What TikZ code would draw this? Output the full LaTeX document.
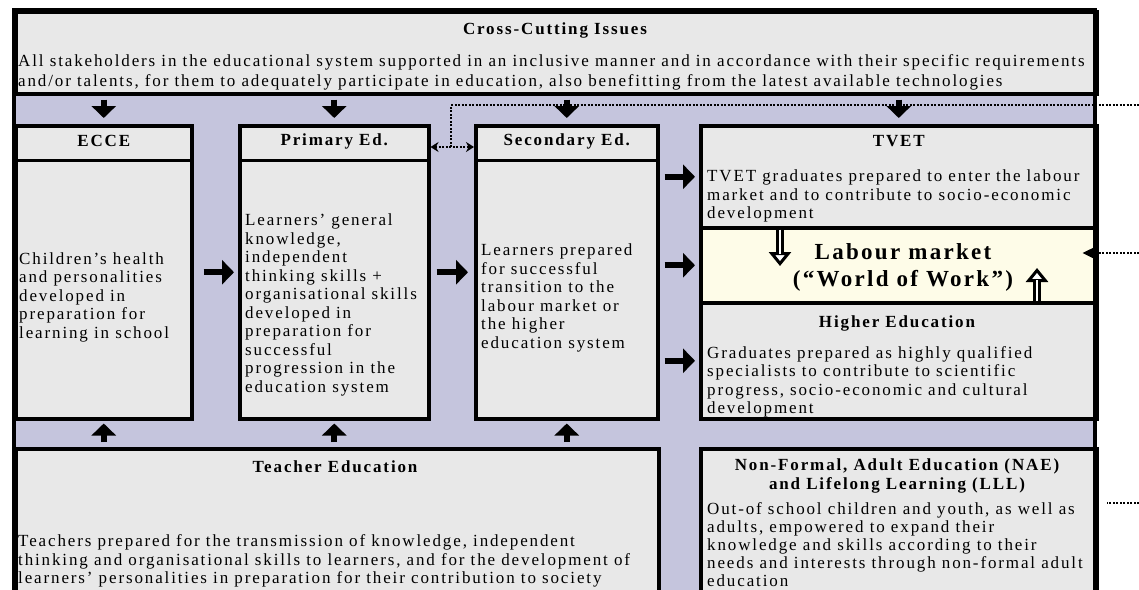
\documentclass[tikz,border=0pt]{standalone}
\usepackage{fontspec}
\setmainfont{Liberation Serif}[LetterSpace=11]
\usetikzlibrary{arrows.meta}

\definecolor{bandBlue}{RGB}{197,197,221}
\definecolor{panelGray}{RGB}{232,232,232}
\definecolor{marketCream}{RGB}{254,252,232}

\tikzset{
  panel/.style={draw=black, line width=3.5pt, fill=panelGray, inner sep=0pt, anchor=north west},
  headtext/.style={align=center, inner sep=0pt, font=\bfseries\fontsize{17}{18.5}\selectfont},
  bodytext/.style={align=left, anchor=west, inner sep=0pt, font=\fontsize{17}{18.5}\selectfont},
  flowarrow/.style={line width=6pt, -{Triangle[length=12pt,width=24pt]}},
  feedline/.style={line width=2.5pt, dash pattern=on 2pt off 1.5pt},
  hollowarrow/.style={line width=8pt, -{Triangle[open, fill=white, length=14pt, width=22pt, line width=3pt]},
    postaction={draw=white, line width=2.5pt, -, shorten >=12pt}}
}

\begin{document}
\begin{tikzpicture}[x=1pt, y=1pt, yscale=-1]
    \clip (0,0) rectangle (1139,589);

    % Define the positions of the lines and links
    \coordinate (hdrLine) at (0,160);
    \coordinate (hdrText) at (0,141);
    \coordinate (linkMid) at (451,147);
    \coordinate (topFeed) at (1139,105);
    \coordinate (labFeed) at (1139,253);
    \coordinate (naeFeed) at (1139,503);
    \coordinate (workDown) at (780,266);
    \coordinate (workUp) at (1037,268);

    % Draw the band behind the boxes
    \fill[bandBlue] (14,10) rectangle (1095,620);
    \draw[feedline] (linkMid) |- (topFeed);

    % Draw the boxes
    \node[panel, minimum width=1081pt, minimum height=82pt] (cross) at (14,10) {};
    \node[panel, minimum width=176pt, minimum height=293pt] (ecce) at (14,124) {};
    \node[panel, minimum width=189pt, minimum height=293pt] (primary) at (238,124) {};
    \node[panel, minimum width=182pt, minimum height=293pt] (secondary) at (474,124) {};
    \node[panel, minimum width=396pt, minimum height=102pt] (tvet) at (699,124) {};
    \node[panel, fill=marketCream, minimum width=396pt, minimum height=75pt] (labour) at (699,226) {};
    \node[panel, minimum width=396pt, minimum height=116pt] (higher) at (699,301) {};
    \node[panel, minimum width=643pt, minimum height=170pt] (teacher) at (14,447) {};
    \node[panel, minimum width=396pt, minimum height=170pt] (nae) at (699,447) {};
    \draw[line width=3.5pt] (14,10) rectangle (1095,620); % outer frame

    % Draw the header lines
    \foreach \col in {ecce,primary,secondary}
        \draw[line width=3pt] (\col.west |- hdrLine) -- (\col.east |- hdrLine);

    % Draw the labels
    \node[headtext] (crossTitle) at (555,30) {Cross-Cutting Issues};
    \node[bodytext, font=\fontsize{17}{20}\selectfont] (crossText) at (18,72) {All stakeholders in the educational system supported in an inclusive manner and in accordance with their specific requirements\\and/or talents, for them to adequately participate in education, also benefitting from the latest available technologies};

    \node[headtext] (ecceTitle) at (ecce.north |- hdrText) {ECCE};
    \node[bodytext] (ecceText) at (19,297) {Children’s health\\and personalities\\developed in\\preparation for\\learning in school};

    \node[headtext] (primaryTitle) at (primary.north |- hdrText) {Primary Ed.};
    \node[bodytext] (primaryText) at (245,305) {Learners’ general\\knowledge,\\independent\\thinking skills +\\organisational skills\\developed in\\preparation for\\successful\\progression in the\\education system};

    \node[headtext] (secondaryTitle) at (secondary.north |- hdrText) {Secondary Ed.};
    \node[bodytext] (secondaryText) at (481,298) {Learners prepared\\for successful\\transition to the\\labour market or\\the higher\\education system};

    \node[headtext] (tvetTitle) at (tvet.north |- hdrText) {TVET};
    \node[bodytext] (tvetText) at (707,196) {TVET graduates prepared to enter the labour\\market and to contribute to socio-economic\\development};

    \node[align=center, inner sep=0pt, font=\bfseries\fontsize{23}{27}\selectfont\addfontfeatures{LetterSpace=10}] (marketText) at (903,267) {Labour market\\(“World of Work”)};

    \node[headtext] (higherTitle) at (897,323) {Higher Education};
    \node[bodytext] (higherText) at (707,382) {Graduates prepared as highly qualified\\specialists to contribute to scientific\\progress, socio-economic and cultural\\development};

    \node[headtext] (teacherTitle) at (335,467) {Teacher Education};
    \node[bodytext] (teacherText) at (18,561) {Teachers prepared for the transmission of knowledge, independent\\thinking and organisational skills to learners, and for the development of\\learners’ personalities in preparation for their contribution to society};

    \node[headtext] (naeTitle) at (897,476) {Non-Formal, Adult Education (NAE)\\and Lifelong Learning (LLL)};
    \node[bodytext, font=\fontsize{17}{18}\selectfont] (naeText) at (707,545) {Out-of school children and youth, as well as\\adults, empowered to expand their\\knowledge and skills according to their\\needs and interests through non-formal adult\\education};

    % Draw the arrows
    \foreach \col in {ecce,primary,secondary,tvet}
        \draw[flowarrow, shorten <=4pt, shorten >=6pt] (\col.north |- cross.south) -- (\col.north);
    \foreach \col in {ecce,primary,secondary}
        \draw[flowarrow, shorten <=5pt, shorten >=3pt] (\col.south |- teacher.north) -- (\col.south);
    \draw[flowarrow, shorten <=10pt, shorten >=4pt] (ecce) -- (primary);
    \draw[flowarrow, shorten <=6pt, shorten >=6pt] (primary) -- (secondary);
    \foreach \blk in {tvet,labour,higher}
        \draw[flowarrow, shorten <=5pt, shorten >=4pt] (secondary.east |- \blk.west) -- (\blk.west);

    \draw[hollowarrow] (workDown |- tvet.south) -- (workDown);
    \draw[hollowarrow] (workUp |- higher.north) -- (workUp);

    % Draw the dotted links
    \draw[feedline, {Stealth[length=8pt,width=10pt]}-{Stealth[length=8pt,width=10pt]}] (linkMid -| primary.east) -- (linkMid -| secondary.west);
    \draw[feedline, -{Triangle[length=12pt,width=11pt]}] (labFeed) -- ([xshift=-16pt]labFeed -| labour.east);
    \draw[feedline] (naeFeed) -- ([xshift=8pt]naeFeed -| nae.east);
\end{tikzpicture}
\end{document}
